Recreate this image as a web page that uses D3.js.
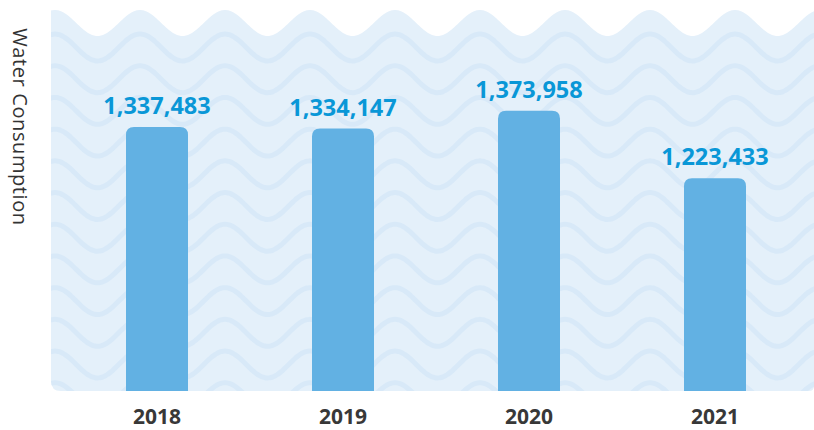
<!DOCTYPE html>
<html>
<head>
<meta charset="utf-8">
<script src="https://cdn.jsdelivr.net/npm/d3@7"></script>
<style>
  html, body { margin: 0; padding: 0; background: #ffffff; }
  svg { display: block; }
</style>
</head>
<body>
<svg id="chart" width="814" height="430"></svg>
<script>
// Annual water consumption
const years = ["2018", "2019", "2020", "2021"];
const consumption = [1337483, 1334147, 1373958, 1223433];
const yTitle = "Water Consumption";

const W = 814, H = 430;
const svg = d3.select("#chart");

// Panel geometry
const panel = { left: 51, right: 814, bottom: 391, radius: 10 };
const wave = { period: 85, crestX: 55 };

const x = d3.scaleBand()
  .domain(years)
  .range([64, 808])
  .paddingInner(2 / 3)
  .paddingOuter(1 / 3);

const y = d3.scaleLinear()
  .domain([750000, 1400000])
  .range([panel.bottom, 99]);

// wave helper: sinusoid with crest at wave.crestX
const waveY = (xx, mean, amp) =>
  mean - amp * Math.cos(2 * Math.PI * (xx - wave.crestX) / wave.period);

// Background panel with a wavy top edge
const topPts = d3.range(panel.left, panel.right + 1, 1).map(xx => [xx, waveY(xx, 23, 13)]);
const panelPath = d3.path();
panelPath.moveTo(topPts[0][0], topPts[0][1]);
topPts.forEach(p => panelPath.lineTo(p[0], p[1]));
panelPath.lineTo(panel.right, panel.bottom - 5);
panelPath.quadraticCurveTo(panel.right, panel.bottom, panel.right - 5, panel.bottom);
panelPath.lineTo(panel.left + panel.radius, panel.bottom);
panelPath.quadraticCurveTo(panel.left, panel.bottom, panel.left, panel.bottom - panel.radius);
panelPath.closePath();

const defs = svg.append("defs");
defs.append("clipPath").attr("id", "panel-clip")
  .append("path").attr("d", panelPath.toString());

svg.append("path")
  .attr("d", panelPath.toString())
  .attr("fill", "#e4f0fa");

// Decorative wave lines inside the panel
const waveLine = d3.line().curve(d3.curveBasis);
const lineMeans = d3.range(0, 12).map(k => 47.5 + 31.7 * k);
svg.append("g")
  .attr("clip-path", "url(#panel-clip)")
  .selectAll("path")
  .data(lineMeans)
  .join("path")
  .attr("d", m => waveLine(d3.range(panel.left - 10, panel.right + 11, 2).map(xx => [xx, waveY(xx, m, 13.5)])))
  .attr("fill", "none")
  .attr("stroke", "#d8e9f8")
  .attr("stroke-width", 5);

// Bars: rounded top corners, square bottoms
const r = 8;
const barPath = (d, i) => {
  const x0 = x(d), w = x.bandwidth();
  const yt = y(consumption[i]), yb = y.range()[0];
  const p = d3.path();
  p.moveTo(x0, yb);
  p.lineTo(x0, yt + r);
  p.quadraticCurveTo(x0, yt, x0 + r, yt);
  p.lineTo(x0 + w - r, yt);
  p.quadraticCurveTo(x0 + w, yt, x0 + w, yt + r);
  p.lineTo(x0 + w, yb);
  p.closePath();
  return p.toString();
};

svg.append("g")
  .selectAll("path")
  .data(years)
  .join("path")
  .attr("d", barPath)
  .attr("fill", "#62b1e3");

// Value labels
const fmt = d3.format(",");
svg.append("g")
  .selectAll("text")
  .data(years)
  .join("text")
  .attr("x", d => x(d) + x.bandwidth() / 2)
  .attr("y", (d, i) => y(consumption[i]) - 13)
  .attr("text-anchor", "middle")
  .attr("font-family", "'Open Sans', sans-serif")
  .attr("font-weight", 700)
  .attr("font-size", 23.5)
  .attr("fill", "#0997d7")
  .text((d, i) => fmt(consumption[i]));

// X axis (labels only)
const xAxis = svg.append("g")
  .attr("transform", `translate(0,${panel.bottom})`)
  .call(d3.axisBottom(x).tickSize(0).tickPadding(18));
xAxis.select(".domain").remove();
xAxis.selectAll("text")
  .attr("font-family", "'Open Sans', sans-serif")
  .attr("font-weight", 700)
  .attr("font-size", 21)
  .attr("fill", "#383838");

// Y axis title, reading top to bottom
svg.append("text")
  .attr("transform", "translate(13,127) rotate(90)")
  .attr("text-anchor", "middle")
  .attr("font-family", "'Open Sans', sans-serif")
  .attr("font-size", 20)
  .attr("letter-spacing", 0.6)
  .attr("fill", "#333333")
  .text(yTitle);
</script>
</body>
</html>
